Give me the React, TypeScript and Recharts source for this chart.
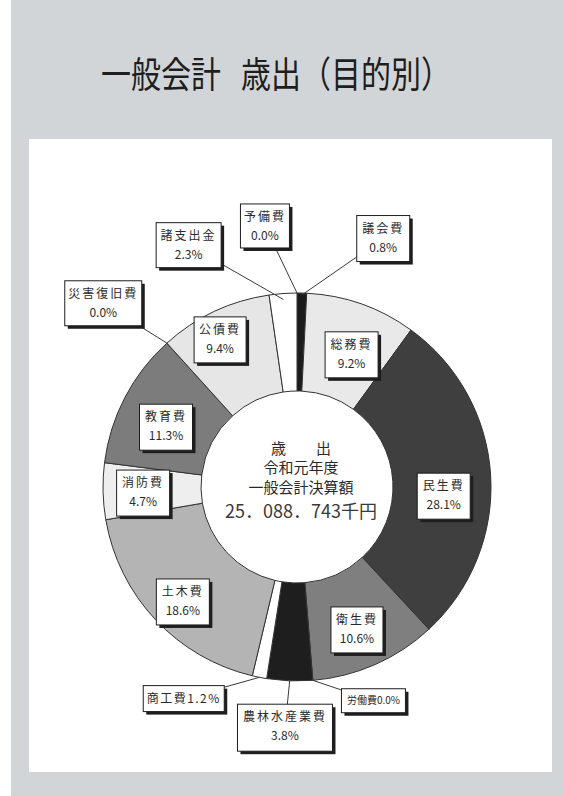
import React from 'react';
import { PieChart, Pie, Cell } from 'recharts';

// 一般会計 歳出（目的別） 令和元年度
const CATEGORIES = [
  '議会費', '総務費', '民生費', '衛生費', '労働費', '農林水産業費', '商工費',
  '土木費', '消防費', '教育費', '災害復旧費', '公債費', '諸支出金', '予備費',
];
const SHARES = [0.8, 9.2, 28.1, 10.6, 0.0, 3.8, 1.2, 18.6, 4.7, 11.3, 0.0, 9.4, 2.3, 0.0];
const FILLS = [
  '#1c1c1c', '#e9e9e9', '#3f3f3f', '#7f7f7f', '#7f7f7f', '#1e1e1e', '#ffffff',
  '#b4b4b4', '#eeeeee', '#7c7c7c', '#7c7c7c', '#e6e6e6', '#ffffff', '#ffffff',
];
const TITLE = ['一般会計', '歳出（目的別）'];
const CENTER_LINES = ['歳　　出', '令和元年度', '一般会計決算額'];
const TOTAL_TEXT = '25．088．743千円';

// label placement: angle shift (deg, clockwise) from slice middle, radius from center, box size
const LABEL_LAYOUT = [
  { da: 17.7, r: 263, w: 53, h: 46, leader: 2 },
  { da: 3, r: 143, w: 53, h: 46 },
  { da: 7, r: 147, w: 53, h: 46 },
  { da: 1, r: 155, w: 52, h: 46 },
  { da: -15, r: 227, w: 64, h: 24, leader: 0, inline: true, fs: 10 },
  { da: 0.7, r: 241, w: 95, h: 47, leader: 0 },
  { da: 17, r: 240, w: 81, h: 26, leader: 0, inline: true, fs: 12 },
  { da: -2, r: 162, w: 53, h: 46 },
  { da: -1, r: 154, w: 53, h: 46 },
  { da: -3, r: 144, w: 53, h: 46 },
  { da: -4.4, r: 267, w: 77, h: 45, leader: 0 },
  { da: -2.4, r: 166, w: 52, h: 46 },
  { da: -20, r: 265, w: 65, h: 45, leader: 6 },
  { da: -7, r: 263, w: 49, h: 44, leader: 0 },
];

const data = CATEGORIES.map((name, i) => ({ name, value: SHARES[i] }));

const FONT = '"Noto Sans CJK JP", "Noto Sans", sans-serif';
const RAD = Math.PI / 180;

function centerText(cx: number, cy: number) {
  const x = cx + 4;
  return (
    <g fontFamily={FONT} fill="#2a2a2a" textAnchor="middle">
      <text x={x} y={cy - 37} dominantBaseline="middle" fontSize={15}>{CENTER_LINES[0]}</text>
      <text x={x} y={cy - 18} dominantBaseline="middle" fontSize={15}>{CENTER_LINES[1]}</text>
      <text x={x} y={cy + 2} dominantBaseline="middle" fontSize={15}>{CENTER_LINES[2]}</text>
      <text x={x} y={cy + 26} dominantBaseline="middle" fontSize={18} fill="#3a3a3a">{TOTAL_TEXT}</text>
    </g>
  );
}

function renderLabel(props: any) {
  const { cx, cy, midAngle, outerRadius, index } = props;
  const lay: any = LABEL_LAYOUT[index];
  const a = (midAngle - lay.da) * RAD;
  const bx = cx + lay.r * Math.cos(a);
  const by = cy - lay.r * Math.sin(a);
  const x0 = bx - lay.w / 2;
  const y0 = by - lay.h / 2;
  const pct = SHARES[index].toFixed(1) + '%';
  let leader = null;
  if (lay.leader !== undefined) {
    const m = midAngle * RAD;
    const lr = outerRadius - lay.leader;
    leader = (
      <line x1={cx + lr * Math.cos(m)} y1={cy - lr * Math.sin(m)} x2={bx} y2={by} stroke="#3a3a3a" strokeWidth={1} />
    );
  }
  return (
    <g key={'lbl-' + index}>
      {index === 0 ? centerText(cx, cy) : null}
      {leader}
      <rect x={x0 + 3} y={y0 + 3} width={lay.w} height={lay.h} fill="#1e1e1e" />
      <rect x={x0} y={y0} width={lay.w} height={lay.h} fill="#ffffff" stroke="#1e1e1e" strokeWidth={1} />
      {lay.inline ? (
        <text x={bx} y={by + 1} textAnchor="middle" dominantBaseline="middle" fontFamily={FONT} fontSize={lay.fs} fill="#2a2a2a" letterSpacing={lay.fs > 11 ? 1.5 : 0}>
          {CATEGORIES[index] + pct}
        </text>
      ) : (
        <>
          <text x={bx} y={y0 + 14} textAnchor="middle" dominantBaseline="middle" fontFamily={FONT} fontSize={12} fill="#2a2a2a" letterSpacing={2}>
            {CATEGORIES[index]}
          </text>
          <text x={bx} y={y0 + 33} textAnchor="middle" dominantBaseline="middle" fontFamily={FONT} fontSize={12} fill="#2a2a2a">
            {pct}
          </text>
        </>
      )}
    </g>
  );
}

export default function App() {
  return (
    <div style={{ position: 'absolute', left: 0, top: 0, width: 563, height: 796, background: '#ffffff', overflow: 'hidden' }}>
      <div style={{ position: 'absolute', left: 11, top: 0, width: 552, height: 796, background: '#d2d5d8' }} />
      <div
        style={{
          position: 'absolute', left: 101, top: 52, fontFamily: FONT, fontSize: 30, lineHeight: '40px',
          color: '#1e1e1e', whiteSpace: 'nowrap', transform: 'scaleY(1.22)', transformOrigin: 'left center',
        }}
      >
        <span>{TITLE[0]}</span>
        <span style={{ marginLeft: 20 }}>{TITLE[1]}</span>
      </div>
      <div style={{ position: 'absolute', left: 29, top: 139, width: 523, height: 633, background: '#ffffff' }}>
        <PieChart width={523} height={633}>
          <Pie
            data={data}
            dataKey="value"
            nameKey="name"
            cx={263}
            cy={343}
            innerRadius={96}
            outerRadius={194}
            startAngle={90}
            endAngle={-270}
            stroke="#333333"
            strokeWidth={1}
            label={renderLabel}
            labelLine={false}
            isAnimationActive={false}
          >
            {data.map((_, i) => (
              <Cell key={i} fill={FILLS[i]} />
            ))}
          </Pie>
        </PieChart>
      </div>
    </div>
  );
}
